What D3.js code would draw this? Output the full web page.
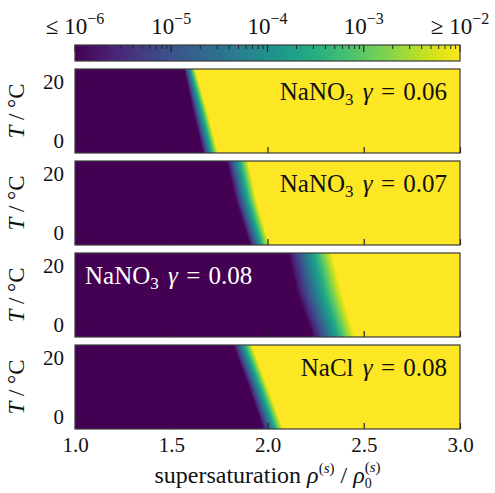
<!DOCTYPE html>
<html><head><meta charset="utf-8">
<script src="https://cdn.jsdelivr.net/npm/d3@7"></script>
<style>body{margin:0;background:#fff} svg{display:block}</style>
</head><body><svg id="c" width="495" height="493"></svg>
<script>
// ---- data ----
const temps = [24.3, 10.8, -4.1];              // °C rows where the edges were read
const panelSalts = ["NaNO", "NaNO", "NaNO", "NaCl"];
const panelSubs = ["3", "3", "3", ""];
const panelGammas = ["0.06", "0.07", "0.08", "0.08"];
// supersaturation where value reaches 1e-6 (edgeLow) and 1e-2 (edgeHigh) at each temp
const edgeLow  = [[1.566, 1.611, 1.665], [1.788, 1.836, 1.909], [2.106, 2.153, 2.236], [1.821, 1.899, 1.977]];
const edgeHigh = [[1.623, 1.684, 1.743], [1.899, 1.944, 2.010], [2.335, 2.387, 2.455], [1.919, 1.997, 2.081]];
const xTicks = [1.0, 1.5, 2.0, 2.5, 3.0];
const yTicks = [0, 20];
const cbarTicks = [1e-6, 1e-5, 1e-4, 1e-3, 1e-2];
const cbarExps = ["−6", "−5", "−4", "−3", "−2"];
const cbarPrefix = ["≤ ", "", "", "", "≥ "];

const FONT = "'Liberation Serif', 'DejaVu Serif', serif";
const svg = d3.select("#c").style("font-family", FONT);
const L = 75, R = 460;
const x = d3.scaleLinear().domain([1, 3]).range([L, R]);
const band = d3.scaleBand().domain(d3.range(4)).range([69, 429]).paddingInner(0.087).paddingOuter(0);
const color = d3.scaleSequentialLog(d3.interpolateViridis).domain([1e-6, 1e-2]).clamp(true);
const spine = "#3a3a3a";

// ---- panels ----
panelSalts.forEach((salt, i) => {
  const top = band(i), h = band.bandwidth();
  const y = d3.scaleLinear().domain([-4.1, 24.3]).range([top + h, top]);
  const lo = d3.scaleLinear().domain(temps).range(edgeLow[i]);
  const hi = d3.scaleLinear().domain(temps).range(edgeHigh[i]);
  const g = svg.append("g");
  const rows = d3.range(Math.round(h));
  const rowData = rows.map(r => {
    const T = y.invert(top + r + 0.5);
    return {r, s0: lo(T), s1: hi(T)};
  });
  const cg = g.append("g").attr("shape-rendering", "crispEdges");
  rowData.forEach(d => {
    const y0 = top + d.r;
    cg.append("rect").attr("x", x(1)).attr("y", y0).attr("width", x(d.s0) - x(1) + 1).attr("height", 1)
      .attr("fill", color(1e-6));
    cg.append("rect").attr("x", x(d.s1) - 1).attr("y", y0).attr("width", x(3) - x(d.s1) + 1).attr("height", 1)
      .attr("fill", color(1e-2));
    const p0 = Math.floor(x(d.s0)), p1 = Math.ceil(x(d.s1));
    for (let p = p0; p < p1; p++) {
      const s = x.invert(p + 0.5);
      const t = Math.max(0, Math.min(1, (s - d.s0) / (d.s1 - d.s0)));
      const v = Math.pow(10, -6 + 4 * t);
      cg.append("rect").attr("x", p).attr("y", y0).attr("width", 1).attr("height", 1).attr("fill", color(v));
    }
  });

  // x axis (inward ticks)
  const xa = g.append("g").attr("transform", `translate(0,${top + h})`)
    .call(d3.axisBottom(x).tickValues(xTicks).tickSize(-6).tickPadding(8)
      .tickFormat(i === 3 ? d3.format(".1f") : () => ""));
  xa.select(".domain").remove();
  xa.selectAll("line").attr("stroke", "#222").attr("stroke-width", 1.2);
  xa.selectAll("text").attr("font-size", 21).attr("font-family", FONT).attr("fill", "#111");

  const ya = g.append("g").attr("transform", `translate(${L},0)`)
    .call(d3.axisLeft(y).tickValues(yTicks).tickSize(-6).tickPadding(11).tickFormat(d3.format("d")));
  ya.select(".domain").remove();
  ya.selectAll("line").attr("stroke", "#222").attr("stroke-width", 1.2);
  ya.selectAll("text").attr("font-size", 21).attr("font-family", FONT).attr("fill", "#111");

  g.append("rect").attr("x", L).attr("y", top).attr("width", R - L).attr("height", h)
    .attr("fill", "none").attr("stroke", spine).attr("stroke-width", 1.2);

  // panel label
  const left = i === 2;
  const t = g.append("text")
    .attr("x", left ? 85 : 447).attr("y", top + 31)
    .attr("text-anchor", left ? "start" : "end")
    .attr("font-size", 25).attr("fill", left ? "#fff" : "#111");
  t.append("tspan").text(salt);
  if (panelSubs[i]) {
    t.append("tspan").attr("font-size", 17).attr("dy", 5).text(panelSubs[i]);
    t.append("tspan").attr("dy", -5).attr("dx", 3).text(" ");
  } else {
    t.append("tspan").attr("dx", 3).text(" ");
  }
  t.append("tspan").attr("font-style", "italic").text("γ");
  t.append("tspan").attr("dx", 2).text(" = ");
  t.append("tspan").attr("dx", 2).text(panelGammas[i]);

  // y label
  g.append("text")
    .attr("transform", `translate(24,${top + h / 2}) rotate(-90)`)
    .attr("text-anchor", "middle").attr("font-size", 23).attr("fill", "#111")
    .call(tt => {
      tt.append("tspan").attr("font-style", "italic").text("T");
      tt.append("tspan").text(" / °C");
    });
});

// ---- colorbar ----
const cb = svg.append("g");
const cx = d3.scaleLog().domain([1e-6, 1e-2]).range([L, R]);
const cTop = 45, cH = 16;
cb.append("g").attr("shape-rendering", "crispEdges").selectAll("rect")
  .data(d3.range(Math.round(L), Math.round(R)))
  .join("rect")
  .attr("x", d => d).attr("y", cTop).attr("width", 1.2).attr("height", cH)
  .attr("fill", d => color(cx.invert(d + 0.5)));
const minor = [];
for (let e = -6; e < -2; e++) for (let m = 2; m <= 9; m++) minor.push(m * Math.pow(10, e));
cb.selectAll(".mn").data(minor).join("line").attr("class", "mn")
  .attr("x1", d => cx(d)).attr("x2", d => cx(d)).attr("y1", cTop).attr("y2", cTop + 4)
  .attr("stroke", "#222").attr("stroke-width", 1);
cb.selectAll(".mj").data(cbarTicks).join("line").attr("class", "mj")
  .attr("x1", d => cx(d)).attr("x2", d => cx(d)).attr("y1", cTop).attr("y2", cTop + 7)
  .attr("stroke", "#222").attr("stroke-width", 1.2);
cb.append("rect").attr("x", L).attr("y", cTop).attr("width", R - L).attr("height", cH)
  .attr("fill", "none").attr("stroke", spine).attr("stroke-width", 1.2);
cbarTicks.forEach((v, k) => {
  const t = cb.append("text").attr("x", cx(v)).attr("y", 34).attr("text-anchor", "middle")
    .attr("font-size", 23).attr("fill", "#111");
  t.append("tspan").text(cbarPrefix[k] + "10");
  t.append("tspan").attr("font-size", 16).attr("dy", -10).text(cbarExps[k]);
});

// ---- x label ----
const xl = svg.append("text").attr("x", (L + R) / 2).attr("y", 483).attr("text-anchor", "middle")
  .attr("font-size", 24).attr("fill", "#111");
xl.append("tspan").text("supersaturation ");
xl.append("tspan").attr("font-style", "italic").text("ρ");
xl.append("tspan").attr("font-size", 15).attr("dy", -10).text("(");
xl.append("tspan").attr("font-size", 15).attr("font-style", "italic").text("s");
xl.append("tspan").attr("font-size", 15).text(")");
xl.append("tspan").attr("dy", 10).text(" / ");
xl.append("tspan").attr("font-style", "italic").text("ρ");
xl.append("tspan").attr("font-size", 14).attr("dy", 5).text("0");
xl.append("tspan").attr("font-size", 15).attr("dx", -7).attr("dy", -16).text("(");
xl.append("tspan").attr("font-size", 15).attr("font-style", "italic").text("s");
xl.append("tspan").attr("font-size", 15).text(")");
</script></body></html>
